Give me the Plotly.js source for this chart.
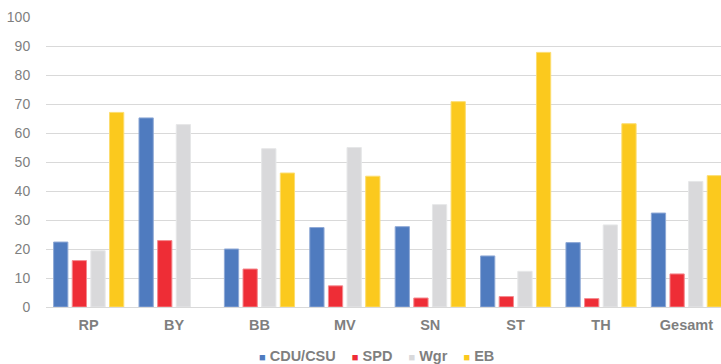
<!DOCTYPE html>
<html>
<head>
<meta charset="utf-8">
<script src="https://cdn.plot.ly/plotly-3.0.1.min.js"></script>
<style>
  html, body { margin: 0; padding: 0; background: #ffffff; }
  #chart { width: 721px; height: 364px; }
</style>
</head>
<body>
<div id="chart"></div>
<script>
// Regions (Bundesländer) and overall result
const categories = ["RP", "BY", "BB", "MV", "SN", "ST", "TH", "Gesamt"];

// Share per group, in percent
const cduCsu = [22.4, 65.2, 20.0, 27.4, 27.7, 17.6, 22.2, 32.4];
const spd    = [16.0, 22.9, 13.1,  7.3,  3.1,  3.6,  2.9, 11.4];
const wgr    = [19.4, 62.9, 54.6, 55.0, 35.3, 12.3, 28.3, 43.3];
const eb     = [67.1,  null, 46.2, 45.1, 70.8, 87.8, 63.2, 45.3];

const seriesNames  = ["CDU/CSU", "SPD", "Wgr", "EB"];
const seriesValues = [cduCsu, spd, wgr, eb];
const seriesColors = ["#4F7BBF", "#EE2D36", "#D9D9DB", "#FBC91E"];
const seriesEdges  = ["#8FA9D6", "#F48A8F", "#E6E7E8", "#FCDD70"];

const yTicks = [0, 10, 20, 30, 40, 50, 60, 70, 80, 90, 100];

const traces = seriesNames.map((name, i) => ({
  type: "bar",
  name: name,
  x: categories,
  y: seriesValues[i],
  marker: { color: seriesColors[i], line: { color: seriesEdges[i], width: 1 } },
  hoverinfo: "x+y+name"
}));

// Legend row drawn underneath the plot
const legendText = seriesNames.map((name, i) =>
  '<span style="color:' + seriesColors[i] + ';font-size:11px">■</span>&nbsp;' + name
).join("&nbsp;&nbsp;&nbsp;&nbsp;");

const layout = {
  width: 721,
  height: 364,
  margin: { l: 46, r: 0, t: 17, b: 57 },
  paper_bgcolor: "#ffffff",
  plot_bgcolor: "#ffffff",
  barmode: "group",
  bargap: 0.127,
  bargroupgap: 0.234,
  showlegend: false,
  font: { family: "Liberation Sans, Arial, sans-serif", color: "#7F7F7F" },
  xaxis: {
    type: "category",
    range: [-0.5, 7.405],
    showgrid: false,
    zeroline: false,
    showline: true,
    linecolor: "#D9D9D9",
    linewidth: 1,
    ticks: "outside",
    ticklen: 5,
    tickcolor: "rgba(0,0,0,0)",
    tickfont: { size: 14.5, color: "#7F7F7F", family: "Liberation Sans, Arial, sans-serif", weight: "bold" }
  },
  yaxis: {
    range: [0, 100],
    tickvals: yTicks,
    ticktext: yTicks.map(String),
    showgrid: true,
    gridcolor: "#D9D9D9",
    gridwidth: 1,
    zeroline: false,
    showline: false,
    ticks: "outside",
    ticklen: 12,
    tickcolor: "rgba(0,0,0,0)",
    tickfont: { size: 14, color: "#7F7F7F", family: "Liberation Sans, Arial, sans-serif" }
  },
  annotations: [{
    xref: "paper", yref: "paper",
    x: 0.49, y: -0.168,
    xanchor: "center", yanchor: "middle",
    showarrow: false,
    text: legendText,
    font: { size: 14.5, color: "#7F7F7F", family: "Liberation Sans, Arial, sans-serif", weight: "bold" }
  }]
};

Plotly.newPlot("chart", traces, layout, { displayModeBar: false, staticPlot: true });
</script>
</body>
</html>
